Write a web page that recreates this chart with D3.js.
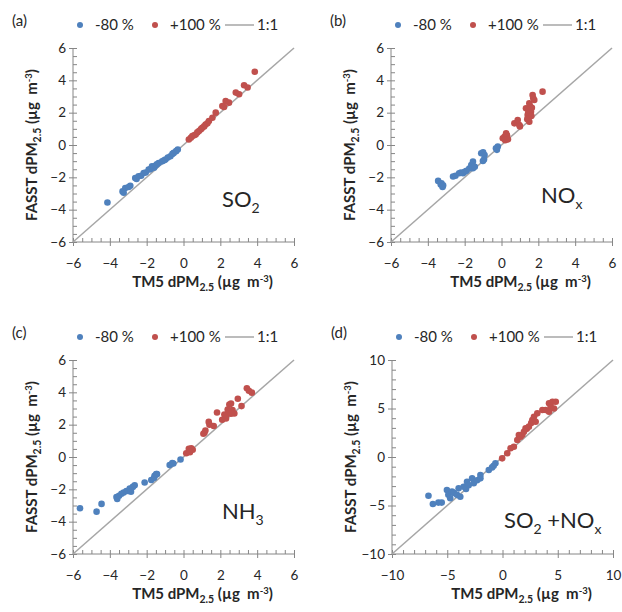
<!DOCTYPE html>
<html><head><meta charset="utf-8">
<script src="https://cdn.jsdelivr.net/npm/d3@7"></script>
<style>
body{margin:0;background:#fff;}
svg{display:block;font-family:Lato,"Open Sans",sans-serif;}
</style></head>
<body><svg id="c" width="622" height="612"></svg>
<script>
// ---- data ----
const panelLetters = ["(a)", "(b)", "(c)", "(d)"];
const legendLabels = ["-80 %", "+100 %", "1:1"];
const tickValsSmall = [-6, -4, -2, 0, 2, 4, 6];
const tickValsLarge = [-10, -5, 0, 5, 10];

const so2Neg = [[-4.13,-3.56],[-3.31,-2.87],[-3.16,-2.66],[-3.25,-2.95],[-2.89,-2.52],[-2.98,-2.6],[-2.62,-2.04],[-2.55,-2.1],[-2.44,-1.94],[-2.3,-1.9],[-2.16,-1.73],[-2.05,-1.7],[-1.89,-1.52],[-1.8,-1.5],[-1.71,-1.32],[-1.6,-1.4],[-1.53,-1.28],[-1.45,-1.2],[-1.35,-1.11],[-1.16,-1.01],[-1.05,-0.95],[-0.98,-0.9],[-0.85,-0.78],[-0.71,-0.7],[-0.6,-0.55],[-0.53,-0.49],[-0.4,-0.38],[-0.31,-0.28]];
const so2Pos = [[0.29,0.34],[0.4,0.45],[0.48,0.55],[0.58,0.6],[0.66,0.65],[0.75,0.78],[0.84,0.86],[0.95,0.98],[1.02,1.07],[1.12,1.15],[1.2,1.27],[1.3,1.35],[1.38,1.48],[1.57,1.69],[1.75,2.0],[2.11,2.41],[2.2,2.35],[2.29,2.72],[2.47,2.62],[2.84,3.24],[3.02,3.14],[3.29,3.7],[3.48,3.56],[3.87,4.53]];

const noxNeg = [[-3.44,-2.22],[-3.3,-2.45],[-3.26,-2.37],[-3.2,-2.6],[-3.17,-2.5],[-2.63,-1.95],[-2.5,-1.9],[-2.3,-1.75],[-2.2,-1.7],[-2.09,-1.75],[-2.0,-1.65],[-1.9,-1.6],[-1.75,-1.45],[-1.64,-1.24],[-1.55,-1.03],[-1.55,-1.44],[-1.45,-1.35],[-1.1,-0.51],[-1.0,-0.45],[-0.92,-0.62],[-1.01,-0.99],[-0.95,-0.9],[-0.3,-0.2],[-0.2,-0.1],[-0.25,-0.3]];
const noxPos = [[0.07,0.42],[0.16,0.51],[0.25,0.72],[0.3,0.6],[0.2,0.3],[0.35,0.35],[0.7,1.34],[0.88,1.55],[0.97,1.24],[1.0,1.15],[1.33,2.27],[1.42,1.85],[1.45,2.0],[1.5,2.2],[1.51,2.58],[1.6,2.06],[1.55,2.4],[1.65,2.3],[1.69,3.09],[1.78,2.78],[1.72,2.9],[1.51,1.44],[1.4,1.6],[1.62,1.8],[2.23,3.3]];

const nh3Neg = [[-5.62,-3.17],[-4.72,-3.38],[-4.45,-2.9],[-3.64,-2.48],[-3.6,-2.6],[-3.5,-2.4],[-3.37,-2.27],[-3.25,-2.2],[-3.1,-2.1],[-3.0,-2.1],[-2.92,-1.95],[-2.85,-2.15],[-2.75,-1.85],[-2.65,-1.75],[-2.11,-1.58],[-1.75,-1.42],[-1.6,-1.3],[-1.57,-1.17],[-1.48,-1.06],[-1.44,-1.06],[-0.75,-0.5],[-0.61,-0.37],[-0.55,-0.4],[-0.16,-0.15]];
const nh3Pos = [[0.15,0.23],[0.29,0.5],[0.42,0.54],[0.5,0.45],[0.35,0.3],[1.08,1.44],[1.14,1.5],[1.19,1.64],[1.37,2.17],[1.41,2.0],[1.64,1.92],[1.82,2.75],[2.1,2.3],[2.22,2.63],[2.31,2.38],[2.31,2.58],[2.4,2.94],[2.49,2.79],[2.49,3.25],[2.58,3.31],[2.66,2.9],[2.76,2.69],[2.58,2.68],[2.95,3.6],[3.15,3.15],[3.44,4.25],[3.55,4.1],[3.71,3.98]];

const so2noxNeg = [[-6.7,-4.0],[-6.3,-4.85],[-5.8,-4.7],[-5.5,-4.7],[-5.03,-3.4],[-4.9,-3.9],[-4.73,-4.26],[-4.57,-3.57],[-4.4,-3.7],[-4.12,-3.9],[-3.97,-3.23],[-3.82,-4.1],[-3.52,-3.06],[-3.3,-3.3],[-3.21,-2.55],[-3.06,-2.9],[-2.75,-2.2],[-2.6,-2.71],[-2.3,-2.4],[-2.0,-2.2],[-2.0,-1.86],[-1.24,-1.34],[-0.94,-1.07],[-0.8,-0.9],[-0.64,-0.65]];
const so2noxPos = [[-0.03,-0.14],[0.43,0.38],[0.73,0.9],[1.03,1.06],[1.34,1.75],[1.48,2.27],[1.64,2.1],[1.8,2.3],[1.94,2.61],[2.09,2.96],[2.2,2.9],[2.39,3.13],[2.6,3.5],[2.7,3.81],[2.85,4.15],[3.0,3.64],[3.15,4.5],[3.61,4.85],[3.91,4.85],[4.21,5.54],[4.36,5.2],[4.52,5.7],[4.66,5.0],[4.82,5.7],[4.21,4.67]];

const blue = "#4F81BD", red = "#C0504D", lineGray = "#A6A6A6", axisGray = "#868686", txt = "#262626";

const svg = d3.select("#c");
svg.append("rect").attr("width",622).attr("height",612).attr("fill","#fff");

const W = 221, H = 194;
const panels = [
  {x0:73, y0:48, dom:[-6,6], ticks:tickValsSmall, minor:0.5, neg:so2Neg, pos:so2Pos, letter:panelLetters[0], label:[["SO",""],["2","sub"]], lx:149, ly:159},
  {x0:391, y0:48, dom:[-6,6], ticks:tickValsSmall, minor:0.5, neg:noxNeg, pos:noxPos, letter:panelLetters[1], label:[["NO",""],["x","sub"]], lx:150, ly:155},
  {x0:73, y0:360, dom:[-6,6], ticks:tickValsSmall, minor:0.5, neg:nh3Neg, pos:nh3Pos, letter:panelLetters[2], label:[["NH",""],["3","sub"]], lx:149, ly:159},
  {x0:392, y0:360, dom:[-10,10], ticks:tickValsLarge, minor:1, neg:so2noxNeg, pos:so2noxPos, letter:panelLetters[3], label:[["SO",""],["2","sub"],[" +NO",""],["x","sub"]], lx:112, ly:168}
];

panels.forEach(p => {
  const g = svg.append("g").attr("transform",`translate(${p.x0},${p.y0})`);
  const x = d3.scaleLinear().domain(p.dom).range([0,W]);
  const y = d3.scaleLinear().domain(p.dom).range([H,0]);
  const minorVals = d3.range(p.dom[0], p.dom[1]+1e-9, p.minor).filter(v => !p.ticks.some(t => Math.abs(t-v)<1e-9));

  const xm = g.append("g").attr("transform",`translate(0,${H})`).call(d3.axisTop(x).tickValues(minorVals).tickSize(4).tickFormat(""));
  const ym = g.append("g").call(d3.axisRight(y).tickValues(minorVals).tickSize(4).tickFormat(""));
  const xa = g.append("g").attr("transform",`translate(0,${H})`).call(d3.axisBottom(x).tickValues(p.ticks).tickSize(4).tickPadding(12));
  const ya = g.append("g").call(d3.axisLeft(y).tickValues(p.ticks).tickSize(4).tickPadding(3));
  xa.selectAll(".tick line").attr("y1",-4);
  ya.selectAll(".tick line").attr("x1",4);
  [xm,ym,xa,ya].forEach(a => {
    a.select(".domain").remove();
    a.selectAll(".tick line").attr("stroke",axisGray);
    a.selectAll("text").attr("fill",txt).style("font-size","13.5px").style("font-family","Lato, sans-serif");
  });
  g.append("line").attr("x1",0).attr("x2",W).attr("y1",H).attr("y2",H).attr("stroke",axisGray);
  g.append("line").attr("x1",0).attr("x2",0).attr("y1",0).attr("y2",H).attr("stroke",axisGray);

  g.append("line").attr("x1",x(p.dom[0])).attr("y1",y(p.dom[0])).attr("x2",x(p.dom[1])).attr("y2",y(p.dom[1]))
    .attr("stroke",lineGray).attr("stroke-width",1.5);

  g.selectAll("circle.n").data(p.neg).enter().append("circle").attr("class","n")
    .attr("cx",d=>x(d[0])).attr("cy",d=>y(d[1])).attr("r",3.3).attr("fill",blue);
  g.selectAll("circle.p").data(p.pos).enter().append("circle").attr("class","p")
    .attr("cx",d=>x(d[0])).attr("cy",d=>y(d[1])).attr("r",3.3).attr("fill",red);

  const lt = g.append("text").attr("x",p.lx).attr("y",p.ly).attr("fill",txt).style("font-size","22px").attr("xml:space","preserve");
  p.label.forEach(([t,k]) => {
    const ts = lt.append("tspan").text(t);
    if (k==="sub") ts.attr("dy","6").style("font-size","14px");
    else ts.attr("dy", lt.selectAll("tspan").size()>1 ? "-6" : "0");
  });

  svg.append("text").attr("x",p.x0-61).attr("y",p.y0-22).attr("fill",txt).style("font-size","15px").text(p.letter);

  const ly = -23;
  g.append("circle").attr("cx",7).attr("cy",ly).attr("r",3).attr("fill",blue);
  g.append("text").attr("x",22).attr("y",ly+5).attr("fill",txt).style("font-size","15px").text(legendLabels[0]);
  g.append("circle").attr("cx",82).attr("cy",ly).attr("r",3).attr("fill",red);
  g.append("text").attr("x",97).attr("y",ly+5).attr("fill",txt).style("font-size","15px").text(legendLabels[1]);
  g.append("line").attr("x1",152).attr("x2",181).attr("y1",ly).attr("y2",ly).attr("stroke",lineGray).attr("stroke-width",1.5);
  g.append("text").attr("x",184).attr("y",ly+5).attr("fill",txt).style("font-size","15px").text(legendLabels[2]);

  const xt = g.append("text").attr("x",W/2+19).attr("y",H+45).attr("text-anchor","middle").attr("fill",txt)
    .style("font-size","15px").style("font-weight","bold").attr("xml:space","preserve");
  xt.append("tspan").text("TM5 dPM");
  xt.append("tspan").text("2.5").attr("dy",4).style("font-size","10.5px");
  xt.append("tspan").text(" (µg  m").attr("dy",-4);
  xt.append("tspan").text("-3").attr("dy",-5).style("font-size","9.5px");
  xt.append("tspan").text(")").attr("dy",5);

  const yt = g.append("text").attr("transform",`translate(-36,${H/2}) rotate(-90)`).attr("text-anchor","middle").attr("fill",txt)
    .style("font-size","15px").style("font-weight","bold").attr("xml:space","preserve");
  yt.append("tspan").text("FASST dPM");
  yt.append("tspan").text("2.5").attr("dy",4).style("font-size","10.5px");
  yt.append("tspan").text(" (µg  m").attr("dy",-4);
  yt.append("tspan").text("-3").attr("dy",-5).style("font-size","9.5px");
  yt.append("tspan").text(")").attr("dy",5);
});
</script></body></html>
